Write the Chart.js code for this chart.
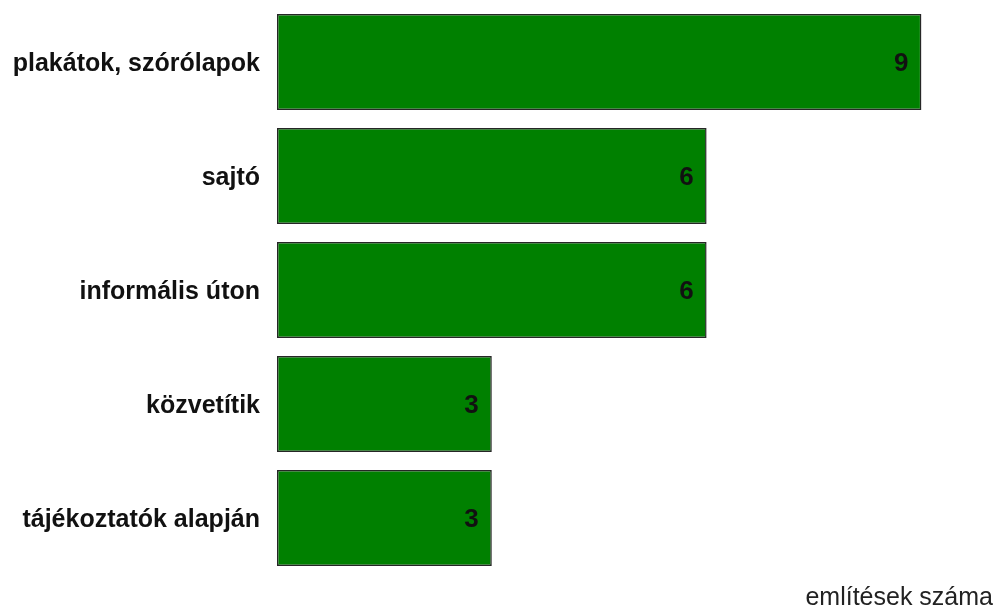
<!DOCTYPE html>
<html>
<head>
<meta charset="utf-8">
<script src="https://cdn.jsdelivr.net/npm/chart.js"></script>
<style>
  body { margin: 0; background: #fff; }
  #wrap { width: 995px; height: 614px; }
</style>
</head>
<body>
<div id="wrap"><canvas id="chart" width="995" height="614"></canvas></div>
<script>
// data
const categories = ['plakátok, szórólapok', 'sajtó', 'informális úton', 'közvetítik', 'tájékoztatók alapján'];
const mentions = [9, 6, 6, 3, 3];
const axisTitle = 'említések száma';

const FONT = '"Liberation Sans", Arial, sans-serif';

// simple value labels at the end of each bar
const barValueLabels = {
  id: 'barValueLabels',
  afterDatasetsDraw(chart) {
    const ctx = chart.ctx;
    const meta = chart.getDatasetMeta(0);
    ctx.save();
    ctx.font = 'bold 26px ' + FONT;
    ctx.fillStyle = '#111';
    ctx.textAlign = 'right';
    ctx.textBaseline = 'middle';
    meta.data.forEach((bar, i) => {
      ctx.fillText(String(mentions[i]), bar.x - 13, bar.y + 2);
    });
    ctx.restore();
  }
};

new Chart(document.getElementById('chart'), {
  type: 'bar',
  data: {
    labels: categories,
    datasets: [{
      data: mentions,
      backgroundColor: '#008000',
      borderColor: '#262626',
      borderWidth: 1.5,
      borderSkipped: false,
      categoryPercentage: 1,
      barPercentage: 0.84,
    }],
  },
  options: {
    indexAxis: 'y',
    responsive: false,
    animation: false,
    layout: { padding: { top: 5, right: 2, bottom: 0, left: 0 } },
    plugins: {
      legend: { display: false },
      tooltip: { enabled: false },
    },
    scales: {
      x: {
        min: 0,
        max: 10,
        grid: { display: false, drawTicks: false },
        border: { display: false },
        ticks: { display: false },
        afterFit(scale) { scale.paddingLeft = 0; scale.paddingRight = 0; },
        title: {
          display: true,
          text: axisTitle,
          align: 'end',
          color: '#222',
          font: { family: FONT, size: 25, lineHeight: 1.2 },
          padding: { top: 8, bottom: 1 },
        },
      },
      y: {
        grid: { display: false, drawTicks: false },
        border: { display: false },
        afterFit(scale) {
          scale.width = 277;
          scale.paddingTop = 0;
          scale.paddingBottom = 0;
        },
        ticks: {
          padding: 17,
          labelOffset: 2,
          color: '#111',
          font: { family: FONT, size: 25, weight: 'bold' },
        },
      },
    },
  },
  plugins: [barValueLabels],
});
</script>
</body>
</html>
